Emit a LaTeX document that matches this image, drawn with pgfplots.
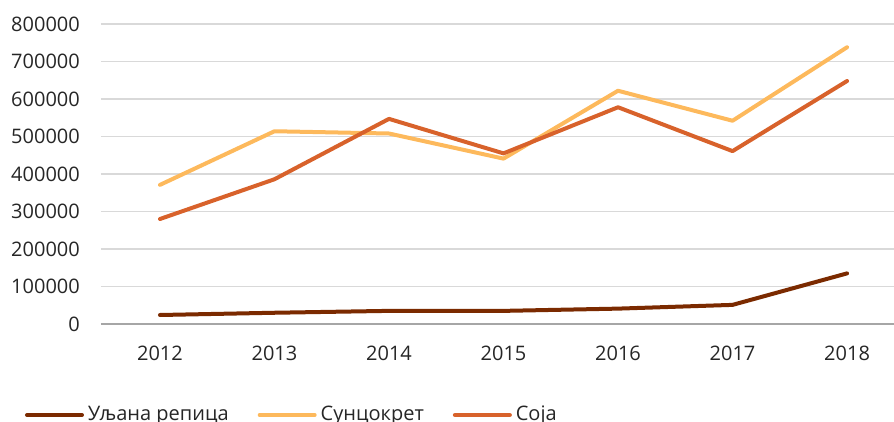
\documentclass[border=0pt]{standalone}
\usepackage{fontspec}
\setmainfont{Open Sans}
\usepackage{pgfplots}
\pgfplotsset{compat=1.18}
\definecolor{cRep}{HTML}{7B2A00}
\definecolor{cSun}{HTML}{FDB95C}
\definecolor{cSoj}{HTML}{D8622B}
\definecolor{cGrid}{HTML}{D9D9D9}
\definecolor{cAxis}{HTML}{A6A6A6}
\definecolor{cText}{HTML}{262626}
\begin{document}
\fontsize{20}{24}\selectfont
\begin{tikzpicture}
\begin{axis}[
  at={(0,0)}, anchor=south west,
  scale only axis, width=793pt, height=300pt,
  xmin=2011.485, xmax=2018.41,
  ymin=0, ymax=800000,
  scaled y ticks=false,
  axis x line*=bottom, axis y line*=left,
  x axis line style={draw=cAxis, line width=1.5pt},
  y axis line style={draw=none},
  major tick length=0pt,
  xtick={2012,2013,2014,2015,2016,2017,2018},
  xticklabels={2012,2013,2014,2015,2016,2017,2018},
  ytick={0,100000,200000,300000,400000,500000,600000,700000,800000},
  yticklabels={0,100000,200000,300000,400000,500000,600000,700000,800000},
  ymajorgrids, grid style={draw=cGrid, line width=1.6pt},
  tick label style={font=\fontsize{20}{24}\selectfont, text=cText},
  yticklabel style={anchor=east, inner sep=0pt, xshift=-21pt},
  xticklabel style={anchor=north, inner sep=0pt, yshift=-22pt},
  every axis plot/.append style={line width=4pt, line cap=round, line join=round},
  legend columns=3,
  legend style={at={(0,0)}, anchor=west, xshift=-76pt, yshift=-91pt,
    draw=none, fill=none, inner sep=0pt, outer sep=0pt,
    font=\fontsize{20}{24}\selectfont, text=cText,
    nodes={inner sep=0pt},
    /tikz/every odd column/.append style={column sep=4pt},
    /tikz/every even column/.append style={column sep=29pt}},
  legend image code/.code={\draw[#1] (0pt,0pt) -- (55pt,0pt);},
]
\addplot[cRep] coordinates {(2012,24000) (2013,30000) (2014,35000) (2015,35000) (2016,41000) (2017,51000) (2018,135000)};
\addlegendentry{Уљана репица}
\addplot[cSun] coordinates {(2012,371000) (2013,514000) (2014,508000) (2015,441000) (2016,622000) (2017,542000) (2018,738000)};
\addlegendentry{Сунцокрет}
\addplot[cSoj] coordinates {(2012,280000) (2013,386000) (2014,547000) (2015,455000) (2016,578000) (2017,461000) (2018,648000)};
\addlegendentry{Соја}
\end{axis}
\pgfresetboundingbox
\useasboundingbox (-101pt,-97pt) rectangle (793pt,324pt);
\end{tikzpicture}
\end{document}
